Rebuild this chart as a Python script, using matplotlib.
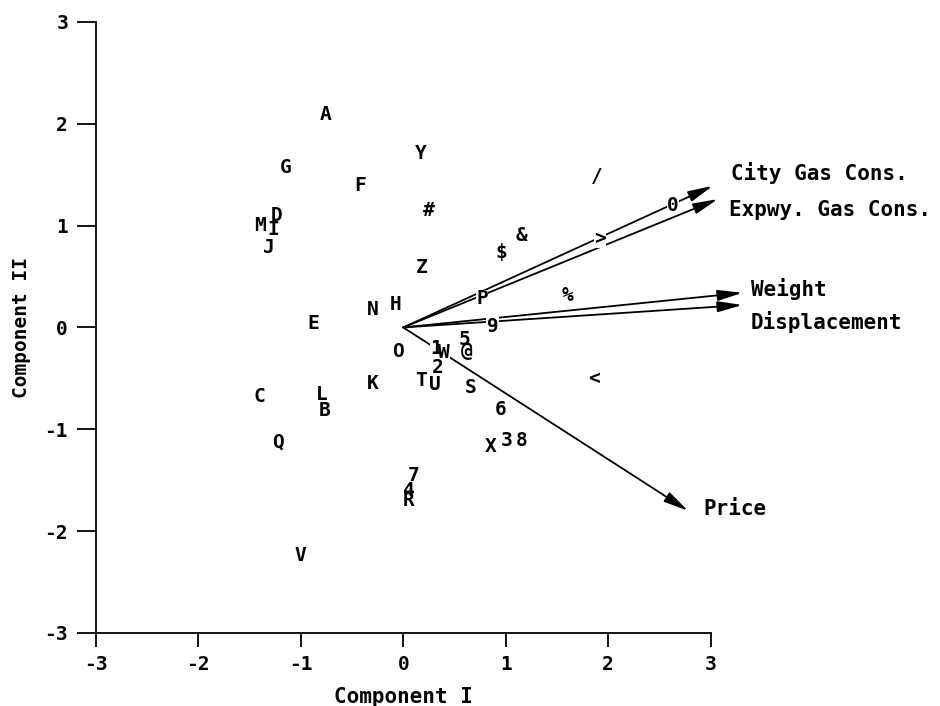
import matplotlib
matplotlib.use('Agg')
import matplotlib.pyplot as plt
from matplotlib.patches import Rectangle

plt.rcParams['font.family'] = ['DejaVu Sans Mono', 'DejaVu Sans']
plt.rcParams['axes.unicode_minus'] = False

# car scores on the first two components
car_labels = ['A', 'Y', 'G', 'F', '#', 'D', 'M', 'I', 'J', 'Z', '$', '&', '/', '0', '>',
              'P', '%', 'N', 'H', 'E', '9', 'O', '1', 'W', '5', '@', '2', 'T', 'U', 'S',
              'K', '<', 'C', 'L', 'B', '6', 'X', '3', '8', 'Q', '7', '4', 'R', 'V']
comp1 = [-0.76, 0.17, -1.15, -0.42, 0.25, -1.24, -1.40, -1.27, -1.31, 0.18, 0.96, 1.15, 1.89, 2.63, 1.92,
         0.77, 1.60, -0.30, -0.07, -0.88, 0.87, -0.05, 0.32, 0.40, 0.60, 0.62, 0.34, 0.17, 0.31, 0.66,
         -0.30, 1.86, -1.40, -0.80, -0.77, 0.95, 0.85, 1.01, 1.16, -1.22, 0.10, 0.05, 0.05, -1.00]
comp2 = [2.09, 1.71, 1.57, 1.39, 1.15, 1.10, 1.00, 0.96, 0.78, 0.59, 0.74, 0.90, 1.48, 1.20, 0.87,
         0.28, 0.31, 0.18, 0.23, 0.04, 0.01, -0.24, -0.21, -0.25, -0.12, -0.24, -0.39, -0.52, -0.56, -0.59,
         -0.55, -0.50, -0.68, -0.66, -0.82, -0.81, -1.17, -1.11, -1.11, -1.13, -1.45, -1.60, -1.70, -2.24]

# variable loadings (arrow tips)
var_names = ['City Gas Cons.', 'Expwy. Gas Cons.', 'Weight', 'Displacement', 'Price']
load1 = [3.02, 3.07, 3.31, 3.31, 2.78]
load2 = [1.39, 1.26, 0.34, 0.22, -1.80]

ticks = [-3, -2, -1, 0, 1, 2, 3]

fig = plt.figure(figsize=(9.4, 7.06), dpi=100)
ax = fig.add_axes([0.102, 0.1034, 0.654, 0.8656])
ax.set_xlim(-3, 3)
ax.set_ylim(-3, 3)

# arrows from the origin
for vx, vy in zip(load1, load2):
    ax.annotate('', xy=(vx, vy), xytext=(0, 0),
                arrowprops=dict(arrowstyle='-|>,head_length=1.5,head_width=0.33',
                                color='black', lw=1.3, shrinkA=0, shrinkB=0),
                annotation_clip=False, zorder=1)

label_offsets = [(13, 9), (8, -8), (6, 3), (6, -12), (11, 1)]
for name, vx, vy, off in zip(var_names, load1, load2, label_offsets):
    ax.annotate(name, xy=(vx, vy), xytext=off, textcoords='offset points',
                ha='left', va='center', fontsize=15, fontweight='bold',
                annotation_clip=False)

point_texts = []
for lab, x, y in zip(car_labels, comp1, comp2):
    t = ax.text(x, y, lab, ha='center', va='center', fontsize=14, fontweight='bold',
                zorder=3, clip_on=False)
    point_texts.append(t)

ax.set_xticks(ticks)
ax.set_yticks(ticks)
ax.spines['top'].set_visible(False)
ax.spines['right'].set_visible(False)
ax.spines['left'].set_linewidth(1.3)
ax.spines['bottom'].set_linewidth(1.3)
ax.tick_params(axis='y', direction='out', length=14, width=1.3, labelsize=14, pad=6)
ax.tick_params(axis='x', direction='out', length=10, width=1.3, labelsize=14, pad=6)
for t in ax.get_xticklabels() + ax.get_yticklabels():
    t.set_fontweight('bold')

ax.set_xlabel('Component I', fontsize=15, fontweight='bold', labelpad=9)
ax.set_ylabel('Component II', fontsize=14, fontweight='bold', labelpad=10)

# white patches behind each label so the arrows break around it (like the plotter did)
fig.canvas.draw()
renderer = fig.canvas.get_renderer()
inv = ax.transData.inverted()
for t in point_texts:
    bb = t.get_window_extent(renderer).expanded(1.05, 0.95)
    (x0, y0), (x1, y1) = inv.transform([[bb.x0, bb.y0], [bb.x1, bb.y1]])
    ax.add_patch(Rectangle((x0, y0), x1 - x0, y1 - y0, fc='white', ec='none',
                           zorder=2, clip_on=False))

fig.savefig('out.png', dpi=100)
